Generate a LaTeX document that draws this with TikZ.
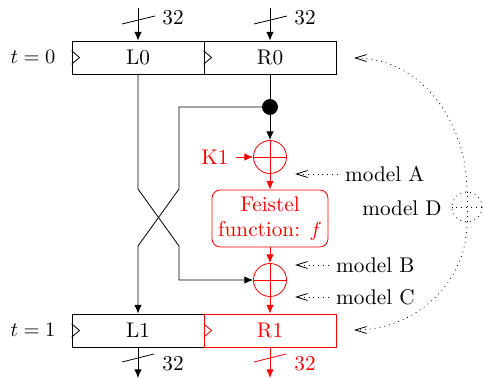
\documentclass[tikz,border=0pt]{standalone}
\usetikzlibrary{arrows.meta,calc}
\begin{document}
\begin{tikzpicture}[x=0.49pt,y=-0.49pt,
  every node/.style={font=\fontsize{10.4pt}{12.5pt}\selectfont},
  >={Latex[length=4.2pt,width=3.6pt]},
  reg/.style={draw, minimum width=64.7pt, minimum height=16.2pt, inner sep=0pt},
  xor/.style={draw, circle, minimum size=16.2pt, inner sep=0pt,
    path picture={\draw (path picture bounding box.north) -- (path picture bounding box.south)
      (path picture bounding box.west) -- (path picture bounding box.east);}},
  fbox/.style={draw, red, text=red, rounded corners=4pt, minimum width=56.8pt, minimum height=27.9pt, align=center, inner sep=1pt},
  mdl/.style={dotted, -{Straight Barb[length=5.5pt,width=3.4pt]}},
  slashln/.style={line width=0.4pt}]
\useasboundingbox (0,0) rectangle (483,378);
% registers
\node[reg] (L0) at (138,57.5) {L0};
\node[reg] (R0) at (270,57.5) {R0};
\node[reg] (L1) at (138,330.5) {L1};
\node[reg, draw=red, text=red] (R1) at (270,330.5) {R1};
\foreach \n/\c in {L0/black,R0/black,L1/black,R1/red}{
  \draw[\c] ([yshift=3.3pt]\n.west) -- ([xshift=3.9pt]\n.west) -- ([yshift=-3.3pt]\n.west);
}
\node (t0) at (33,57) {$t=0$};
\node (t1) at (33,330) {$t=1$};
% inputs
\coordinate (inL) at (138,8);
\coordinate (inR) at (270,8);
\draw[->] (inL) -- (L0.north);
\draw[->] (inR) -- (R0.north);
\draw[slashln] (122,24) -- (155,16);
\draw[slashln] (254,24) -- (287,16);
\node (nL) at (173,18) {32};
\node (nR) at (305,18) {32};
% outputs
\coordinate (outL) at (138,378);
\coordinate (outR) at (270,378);
\draw[->] (L1.south) -- (outL);
\draw[red,->] (R1.south) -- (outR);
\draw[slashln] (122,362) -- (154,354);
\draw[slashln,red] (254,362) -- (286,354);
\node (oL) at (173,364) {32};
\node[red] (oR) at (305,364) {32};
% round function
\node[circle, fill, minimum size=7.8pt, inner sep=0pt] (dot) at (270,107) {};
\node[xor, red] (x1) at (270,157) {};
\node[red] (K1) at (215,157) {K1};
\node[fbox] (f) at (270,218.5) {Feistel\\function: $f$};
\node[xor, red] (x2) at (270,280) {};
\draw (R0.south) -- (dot);
\draw[->] (dot) -- (x1);
\draw[red,->] (K1) -- (x1);
\draw[red,->] (x1) -- (f);
\draw[red,->] (f) -- (x2);
\draw[red,->] (x2) -- (R1);
\draw[->] (L0.south) -- (138,189) -- (179,246) -- (179,280) -- (x2.west);
\draw[->] (dot.center) -- (179,107) -- (179,189) -- (138,246) -- (L1.north);
% models
\node[anchor=west] (mA) at (338,174) {model A};
\coordinate (tA) at (295,174);
\draw[mdl] (mA.west) -- (tA);
\node[anchor=west] (mB) at (329,265) {model B};
\coordinate (tB) at (295,265);
\draw[mdl] (mB.west) -- (tB);
\node[anchor=west] (mC) at (329,297) {model C};
\coordinate (tC) at (295,297);
\draw[mdl] (mC.west) -- (tC);
\node (mD) at (402,208) {model D};
\node[draw, circle, dotted, minimum size=14.7pt, inner sep=0pt] (D) at (467,207) {};
\draw[dotted] (D.north) -- (D.south) (D.west) -- (D.east);
\coordinate (tR0) at (354,58);
\coordinate (tR1) at (354,330);
\draw[mdl] (D.north) to[out=90,in=0] (tR0);
\draw[mdl] (D.south) to[out=-90,in=0] (tR1);
\end{tikzpicture}
\end{document}
